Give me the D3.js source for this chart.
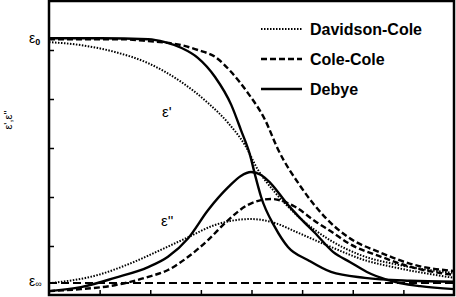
<!DOCTYPE html>
<html>
<head>
    <title>Debye, Cole-Cole and Davidson-Cole dispersion</title>
    <script src="https://cdn.jsdelivr.net/npm/d3@7/dist/d3.min.js"></script>
    <style>
        body { margin: 0; background: #fff; }
        .curve { fill: none; stroke: #000; }
        .lbl { font-family: "Liberation Sans", Arial, sans-serif; fill: #000; }
        .legend-text { font-family: "Liberation Sans", Arial, sans-serif; font-weight: bold; font-size: 16px; fill: #000; }
    </style>
</head>
<body>
    <div id="chart"></div>

    <script>
        // values: [log frequency (x-axis units), permittivity (y-axis units)]
        const debyeReal = [[0, 5.24], [1.01, 5.24], [1.96, 5.22], [2.29, 5.16], [2.62, 5.04], [2.94, 4.84],
            [3.28, 4.45], [3.60, 3.88], [3.79, 3.37], [3.97, 2.86], [4.07, 2.45], [4.19, 2.00], [4.46, 1.39],
            [4.72, 0.98], [5.12, 0.71], [5.57, 0.47], [6.24, 0.35], [7.13, 0.29], [8.00, 0.27]];
        const debyeImag = [[0, 0.08], [0.63, 0.16], [1.30, 0.35], [1.96, 0.57], [2.35, 0.78], [2.75, 1.16],
            [3.14, 1.73], [3.54, 2.20], [3.79, 2.43], [3.99, 2.51], [4.19, 2.45], [4.37, 2.29], [4.72, 1.84],
            [4.96, 1.57], [5.25, 1.27], [5.61, 0.88], [5.95, 0.67], [6.28, 0.47], [6.68, 0.31], [7.33, 0.18], [8.00, 0.12]];
        const coleReal = [[0, 5.22], [1.42, 5.22], [1.96, 5.18], [2.61, 5.10], [2.94, 5.00], [3.28, 4.86],
            [3.60, 4.55], [3.93, 4.12], [4.27, 3.57], [4.52, 2.98], [4.98, 2.20], [5.45, 1.59], [5.91, 1.18],
            [6.56, 0.86], [7.23, 0.61], [8.00, 0.49]];
        const coleImag = [[0, 0.08], [0.63, 0.12], [1.30, 0.20], [1.96, 0.37], [2.35, 0.51], [2.75, 0.78],
            [3.14, 1.12], [3.54, 1.53], [3.93, 1.84], [4.39, 1.96], [4.86, 1.80], [5.25, 1.51], [5.61, 1.27],
            [5.91, 1.06], [6.56, 0.78], [7.23, 0.55], [8.00, 0.41]];
        const davidsonReal = [[0, 5.16], [0.63, 5.10], [1.30, 4.96], [1.96, 4.73], [2.61, 4.35], [3.14, 3.92],
            [3.54, 3.51], [3.87, 3.06], [4.13, 2.55], [4.46, 2.10], [4.96, 1.57], [5.55, 1.12], [6.14, 0.82],
            [6.93, 0.61], [8.00, 0.45]];
        const davidsonImag = [[0, 0.24], [0.97, 0.41], [1.62, 0.65], [2.29, 0.96], [2.75, 1.18], [3.28, 1.43],
            [3.99, 1.55], [4.46, 1.47], [4.92, 1.27], [5.57, 0.98], [6.24, 0.71], [6.89, 0.55], [8.00, 0.35]];

        const epsStatic = 5.24;   // ε0 level
        const epsInf = 0.245;     // ε∞ level (dashed reference line)
        const xTicks = [1, 2, 3, 4, 5, 6, 7];
        const yTicks = [1, 2, 3, 4, 5];
        const legendNames = ['Davidson-Cole', 'Cole-Cole', 'Debye'];
        const legendDash = ['1.5,1.5', '6,3', null];

        const width = 456;
        const height = 297;

        const svg = d3.select('#chart')
            .append('svg')
            .attr('width', width)
            .attr('height', height);

        const x = d3.scaleLinear().domain([0, 8]).range([49, 454]);
        const y = d3.scaleLinear().domain([0, 6]).range([295, 1]);

        // ticks point inward
        svg.append('g')
            .attr('transform', 'translate(0,295)')
            .call(d3.axisBottom(x).tickValues(xTicks).tickSizeInner(-5).tickSizeOuter(0).tickFormat(''))
            .call(g => g.select('.domain').remove())
            .selectAll('line').attr('stroke', '#000').attr('stroke-width', 1.5);

        svg.append('g')
            .attr('transform', 'translate(49,0)')
            .call(d3.axisLeft(y).tickValues(yTicks).tickSizeInner(-5).tickSizeOuter(0).tickFormat(''))
            .call(g => g.select('.domain').remove())
            .selectAll('line').attr('stroke', '#000').attr('stroke-width', 1.5);

        const line = d3.line()
            .x(function(d) { return x(d[0]); })
            .y(function(d) { return y(d[1]); })
            .curve(d3.curveMonotoneX);

        // ε∞ reference line
        svg.append('line')
            .attr('x1', x(0)).attr('x2', x(8))
            .attr('y1', y(epsInf)).attr('y2', y(epsInf))
            .attr('stroke', '#000').attr('stroke-width', 1.8)
            .attr('stroke-dasharray', '8,4');

        const series = [
            { data: davidsonReal, dash: '1.5,1.5', w: 2 },
            { data: davidsonImag, dash: '1.5,1.5', w: 2 },
            { data: coleReal, dash: '6,3', w: 2.4 },
            { data: coleImag, dash: '6,3', w: 2.4 },
            { data: debyeReal, dash: null, w: 2.4 },
            { data: debyeImag, dash: null, w: 2.4 }
        ];

        svg.selectAll('path.curve')
            .data(series)
            .enter()
            .append('path')
            .attr('class', 'curve')
            .attr('stroke-width', d => d.w)
            .attr('stroke-dasharray', d => d.dash)
            .attr('d', d => line(d.data));

        // frame
        svg.append('rect')
            .attr('x', 49).attr('y', 1)
            .attr('width', 405).attr('height', 294)
            .attr('fill', 'none').attr('stroke', '#000').attr('stroke-width', 2.5);

        // legend
        const legend = svg.append('g');
        legendNames.forEach(function(name, i) {
            const ly = 29 + i * 30;
            legend.append('line')
                .attr('x1', 261).attr('x2', 302)
                .attr('y1', ly).attr('y2', ly)
                .attr('stroke', '#000')
                .attr('stroke-width', i === 0 ? 2 : 2.5)
                .attr('stroke-dasharray', legendDash[i]);
            legend.append('text')
                .attr('class', 'legend-text')
                .attr('x', 310).attr('y', ly + 6)
                .text(name);
        });

        // level labels
        const e0 = svg.append('text').attr('class', 'lbl')
            .attr('x', 29).attr('y', y(epsStatic) + 5).style('font-size', '14px');
        e0.append('tspan').text('ε');
        e0.append('tspan').attr('dy', 2).style('font-size', '9px').style('font-weight', 'bold').text('0');

        const eInf = svg.append('text').attr('class', 'lbl')
            .attr('x', 29).attr('y', y(epsInf) + 3).style('font-size', '14px');
        eInf.append('tspan').text('ε');
        eInf.append('tspan').attr('dy', 1).style('font-size', '9px').text('∞');

        svg.append('text').attr('class', 'lbl')
            .attr('x', 162).attr('y', 117).style('font-size', '15px')
            .text("ε'");

        svg.append('text').attr('class', 'lbl')
            .attr('x', 161).attr('y', 226).style('font-size', '15px')
            .text("ε''");

        svg.append('text').attr('class', 'lbl')
            .attr('transform', 'translate(12,120) rotate(-90)')
            .style('text-anchor', 'middle')
            .style('font-size', '11px')
            .text("ε',ε''");
    </script>
</body>
</html>
